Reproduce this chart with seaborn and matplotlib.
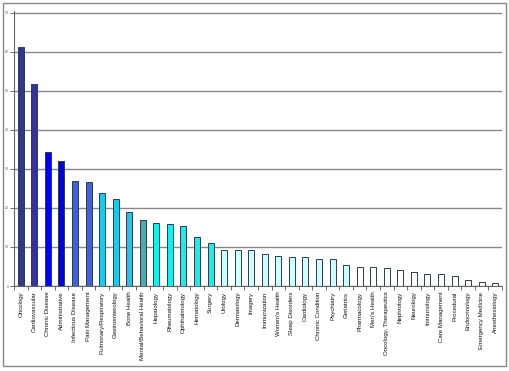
import matplotlib
matplotlib.use("Agg")
import matplotlib.pyplot as plt
import seaborn as sns
import pandas as pd
import numpy as np
from matplotlib.patches import Rectangle

categories = ["Oncology", "Cardiovascular", "Chronic Disease", "Administrative",
              "Infectious Disease", "Pain Management", "Pulmonary/Respiratory",
              "Gastroenterology", "Bone Health", "Mental/Behavioral Health",
              "Hepatology", "Rheumatology", "Ophthalmology", "Hematology", "Surgery",
              "Urology", "Dermatology", "Imagery", "Immunization", "Women's Health",
              "Sleep Disorders", "Cardiology", "Chronic Condition", "Psychiatry",
              "Geriatrics", "Pharmacology", "Men's Health", "Oncology, Therapeutics",
              "Nephrology", "Neurology", "Immunology", "Care Management", "Procedural",
              "Endocrinology", "Emergency Medicine", "Anesthesiology"]
values = [61.2, 51.7, 34.3, 32.0, 26.9, 26.6, 23.8, 22.2, 18.9, 16.8,
          16.1, 15.9, 15.3, 12.5, 11.1, 9.1, 9.1, 9.1, 8.3, 7.7,
          7.5, 7.3, 7.0, 6.9, 5.4, 4.75, 4.75, 4.5, 4.0, 3.5,
          3.0, 3.0, 2.5, 1.5, 0.9, 0.7]
colors = (["#333399"] * 2 + ["#0000F0"] * 2 + ["#3A62E8"] * 2 + ["#1CC8F0"] * 3 +
          ["#40B0B0"] + ["#10F0F0"] * 5 + ["#CCFFFF"] * 10 + ["#FFFFFF"] * 11)
yticks = [0, 10, 20, 30, 40, 50, 60, 70]

df = pd.DataFrame({"category": categories, "value": values})

sns.set_style("white")
plt.rcParams["font.family"] = ["Liberation Sans", "DejaVu Sans"]

fig = plt.figure(figsize=(5.10, 3.71), dpi=100)
ax = fig.add_axes([14 / 510, 1 - 286 / 371, (502 - 14) / 510, (286 - 11) / 371])

sns.barplot(data=df, x="category", y="value", hue="category", palette=colors,
            legend=False, width=0.45, edgecolor="#2E3B4A", linewidth=0.7, ax=ax,
            saturation=1)

ax.set_ylim(0, 70.4)
ax.set_xlim(-0.5, len(categories) - 0.5)
ax.set_yticks(yticks)
ax.set_yticklabels([str(t) for t in yticks], fontsize=2.5, color="#666666")
ax.yaxis.grid(True, color="#888888", linewidth=1.0)
ax.set_axisbelow(True)
ax.set_xlabel("")
ax.set_ylabel("")
ax.set_xticks(range(len(categories)))
ax.set_xticklabels(categories, rotation=90, fontsize=4.4, color="#111111",
                   va="top", ha="center")
ax.set_xticks(np.arange(-0.5, len(categories), 1), minor=True)
ax.tick_params(axis="x", which="major", length=0, pad=4)
ax.tick_params(axis="x", which="minor", length=3, width=0.6, color="#555555",
               direction="out", bottom=True)
ax.tick_params(axis="y", length=3, width=0.6, color="#555555", direction="out",
               left=True, pad=1)
for s in ["top", "right"]:
    ax.spines[s].set_visible(False)
ax.spines["left"].set_color("#666666")
ax.spines["left"].set_linewidth(0.8)
ax.spines["bottom"].set_color("#666666")
ax.spines["bottom"].set_linewidth(0.8)

fig.patches.append(Rectangle((3 / 510, 1 - 366 / 371), 503 / 510, 363 / 371,
                             transform=fig.transFigure, fill=False,
                             edgecolor="#888888", linewidth=1.0))

fig.savefig("out.png", dpi=100)
